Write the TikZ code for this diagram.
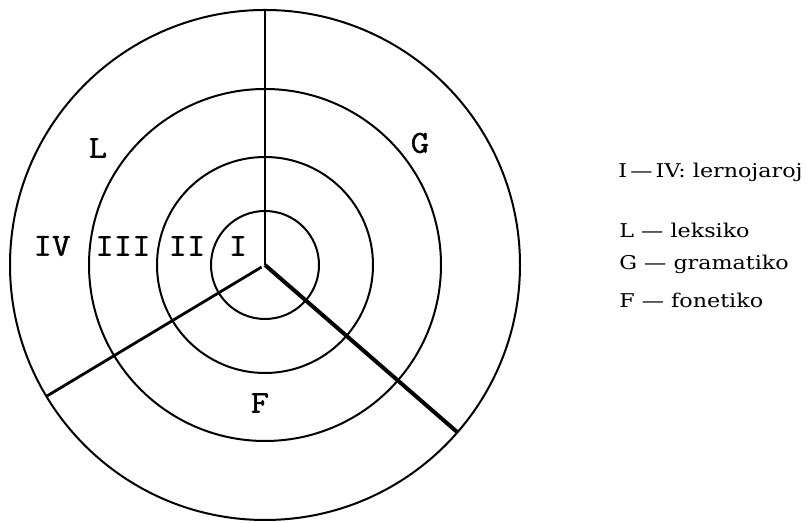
\documentclass[tikz,border=0pt]{standalone}
\usepackage{fontspec}
\setmainfont[FakeStretch=1.17]{DejaVu Serif}
\newfontfamily\ringfont[FakeStretch=1.12, FakeBold=1.2]{Latin Modern Mono}
\usepackage{tikz}
\usetikzlibrary{positioning}

\tikzset{
  ring/.style={line width=1pt},
  spoke/.style={line width=1.4pt},
  ringlabel/.style={font=\ringfont\fontsize{16}{18}\selectfont, inner sep=0pt},
  legend/.style={font=\fontsize{9.5}{11}\selectfont, anchor=west, inner sep=0pt}
}

\begin{document}
\begin{tikzpicture}[x=0.5pt,y=0.5pt]
        \useasboundingbox (0,0) rectangle (809,523);
        \coordinate (hub) at (265,258);

        % Cerchi
        \draw[ring] (hub) circle (255);
        \draw[ring] (hub) circle (176);
        \draw[ring] (hub) circle (108);
        \draw[ring] (hub) circle (54);

        % Raggi
        \path (hub) ++(90:255) coordinate (topend);
        \path (hub) ++(-41:255) coordinate (rightend);
        \path (hub) ++(211:255) coordinate (leftend);
        \draw[spoke] (hub) -- (topend);
        \draw[line width=2pt] (hub) -- (rightend);
        \draw[spoke, shorten <=2pt] (hub) -- (leftend);

        % Etichette
        \node[ringlabel] (iv) at (52,277) {IV};
        \node[ringlabel] (iii) at (123,277) {III};
        \node[ringlabel] (ii) at (187,277) {II};
        \node[ringlabel] (i) at (238,277) {I};
        \node[ringlabel] (lex) at (98,375) {L};
        \node[ringlabel] (gram) at (420,380) {G};
        \node[ringlabel] (fon) at (260,120) {F};

        % Legenda
        \node[legend] (years) at (618,351) {I\,---\,IV: lernojaroj};
        \node[legend] (lkey) at (619,293) {L --- leksiko};
        \node[legend] (gkey) at (619,259) {G --- gramatiko};
        \node[legend] (fkey) at (619,223) {F --- fonetiko};
    \end{tikzpicture}
\end{document}
